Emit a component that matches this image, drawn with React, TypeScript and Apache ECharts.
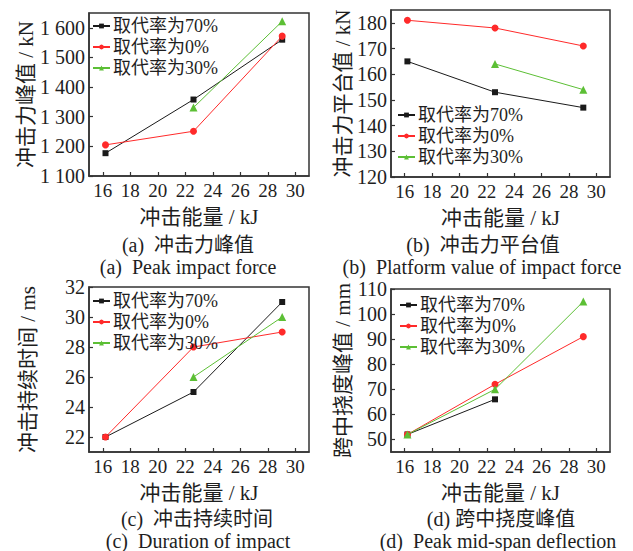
import React, { useEffect, useRef } from "react";
import * as echarts from "echarts";

// ---- data ----
const energy = [16.2, 22.6, 29.05];
const seriesNames = ["取代率为70%", "取代率为0%", "取代率为30%"];

const peakForce70 = [1177, 1358, 1560];
const peakForce0 = [1205, 1251, 1572];
const peakForce30 = [null, 1331, 1622];

const platform70 = [165, 153, 147];
const platform0 = [181, 178, 171];
const platform30 = [null, 164, 154];

const duration70 = [22, 25, 31];
const duration0 = [22, 28, 29];
const duration30 = [null, 26, 30];

const deflection70 = [52, 66, null];
const deflection0 = [52, 72, 91];
const deflection30 = [52, 70, 105];

const xTicks = [16, 18, 20, 22, 24, 26, 28, 30];
const yTicksA = [1100, 1200, 1300, 1400, 1500, 1600];
const yTicksB = [120, 130, 140, 150, 160, 170, 180];
const yTicksC = [22, 24, 26, 28, 30, 32];
const yTicksD = [50, 60, 70, 80, 90, 100, 110];

const xName = "冲击能量 / kJ";
const yNames = ["冲击力峰值 / kN", "冲击力平台值 / kN", "冲击持续时间 / ms", "跨中挠度峰值 / mm"];
const captionsCn = ["(a)  冲击力峰值", "(b)  冲击力平台值", "(c)  冲击持续时间", "(d) 跨中挠度峰值"];
const captionsEn = [
  "(a)  Peak impact force",
  "(b)  Platform value of impact force",
  "(c)  Duration of impact",
  "(d)  Peak mid-span deflection",
];

const FONT = "'Liberation Serif', 'Noto Sans CJK SC', serif";
const FRAME = "#333333";
const TEXT = "#1e1e1e";
const colors = ["#1a1a1a", "#ff2a2a", "#5cbf35"];
const symbols = ["rect", "circle", "triangle"];
const symbolSizes = [6, 7, 8];

const grids = [
  { left: 89, top: 13, width: 220, height: 163 },
  { left: 391, top: 10, width: 219, height: 167 },
  { left: 89, top: 287, width: 220, height: 165 },
  { left: 391, top: 289, width: 219, height: 163 },
];

const yRanges = [
  { min: 1100, max: 1650, ticks: yTicksA, gap: 49 },
  { min: 120, max: 185, ticks: yTicksB, gap: 37 },
  { min: 21, max: 32, ticks: yTicksC, gap: 51 },
  { min: 45, max: 110, ticks: yTicksD, gap: 37 },
];

const panelData = [
  [peakForce70, peakForce0, peakForce30],
  [platform70, platform0, platform30],
  [duration70, duration0, duration30],
  [deflection70, deflection0, deflection30],
];

const legendPos = [
  { left: 92, top: 17 },
  { left: 397, top: 106 },
  { left: 92, top: 292 },
  { left: 399, top: 296 },
];

const captionPos = [
  { cx: 188, cy: 245, ex: 188, ey: 267 },
  { cx: 483, cy: 245, ex: 482, ey: 267 },
  { cx: 197, cy: 519, ex: 198, ey: 541 },
  { cx: 501, cy: 519, ex: 498, ey: 541 },
];

function fmtThousands(v: number) {
  if (v >= 1000) {
    const s = String(v);
    return s.slice(0, s.length - 3) + " " + s.slice(s.length - 3);
  }
  return String(v);
}

export default function App() {
  const ref = useRef<HTMLDivElement>(null);
  useEffect(() => {
    if (!ref.current) return;
    const chart = echarts.init(ref.current, undefined, { renderer: "svg" });

    const xAxis = grids.map((_, i) => ({
      gridIndex: i,
      type: "value",
      min: 15,
      max: 31,
      name: xName,
      nameLocation: "middle",
      nameGap: 30,
      nameTextStyle: { fontSize: 21, color: TEXT, fontFamily: FONT },
      axisLine: { show: true, lineStyle: { color: FRAME, width: 1.5 } },
      axisTick: { show: true, inside: true, length: 4, customValues: xTicks, lineStyle: { color: FRAME, width: 1.2 } },
      axisLabel: { customValues: xTicks, fontSize: 19, color: TEXT, margin: 5, fontFamily: FONT },
      splitLine: { show: false },
    }));

    const yAxis = grids.map((_, i) => ({
      gridIndex: i,
      type: "value",
      min: yRanges[i].min,
      max: yRanges[i].max,
      name: yNames[i],
      nameLocation: "middle",
      nameGap: yRanges[i].gap,
      nameTextStyle: { fontSize: 21, color: TEXT, fontFamily: FONT },
      axisLine: { show: true, lineStyle: { color: FRAME, width: 1.5 } },
      axisTick: { show: true, inside: true, length: 4, customValues: yRanges[i].ticks, lineStyle: { color: FRAME, width: 1.2 } },
      axisLabel: {
        customValues: yRanges[i].ticks,
        fontSize: 20,
        color: TEXT,
        margin: 4,
        fontFamily: FONT,
        formatter: (v: number) => fmtThousands(v),
      },
      splitLine: { show: false },
    }));

    const series: any[] = [];
    panelData.forEach((sets, gi) => {
      sets.forEach((vals, si) => {
        const data: number[][] = [];
        vals.forEach((v, k) => {
          if (v !== null && v !== undefined) data.push([energy[k], v as number]);
        });
        series.push({
          type: "line",
          name: seriesNames[si],
          xAxisIndex: gi,
          yAxisIndex: gi,
          data,
          symbol: symbols[si],
          symbolSize: symbolSizes[si],
          showAllSymbol: true,
          lineStyle: { color: colors[si], width: 1 },
          itemStyle: { color: colors[si] },
          z: 2 + si,
        });
      });
    });

    const legend = legendPos.map((p) => ({
      orient: "vertical",
      left: p.left,
      top: p.top,
      padding: 0,
      itemWidth: 17,
      itemHeight: 6,
      itemGap: 3,
      selectedMode: false,
      data: seriesNames,
      textStyle: { fontSize: 18, color: TEXT, fontFamily: FONT, padding: [0, 0, 0, -2] },
    }));

    const graphic: any[] = [];
    captionPos.forEach((c, i) => {
      graphic.push({
        type: "text",
        x: c.cx,
        y: c.cy,
        style: { text: captionsCn[i], fontSize: 20, fontFamily: FONT, fill: TEXT, align: "center", verticalAlign: "middle" },
      });
      graphic.push({
        type: "text",
        x: c.ex,
        y: c.ey,
        style: { text: captionsEn[i], fontSize: 20, fontFamily: FONT, fill: TEXT, align: "center", verticalAlign: "middle" },
      });
    });

    chart.setOption({
      animation: false,
      backgroundColor: "#ffffff",
      grid: grids.map((g) => ({ ...g, show: true, borderColor: FRAME, borderWidth: 1.5, backgroundColor: "transparent" })),
      xAxis,
      yAxis,
      legend,
      series,
      graphic,
    } as any);

    return () => chart.dispose();
  }, []);

  return (
    <div
      ref={ref}
      style={{ position: "absolute", left: 0, top: 0, width: 633, height: 551, background: "#fff" }}
    />
  );
}
